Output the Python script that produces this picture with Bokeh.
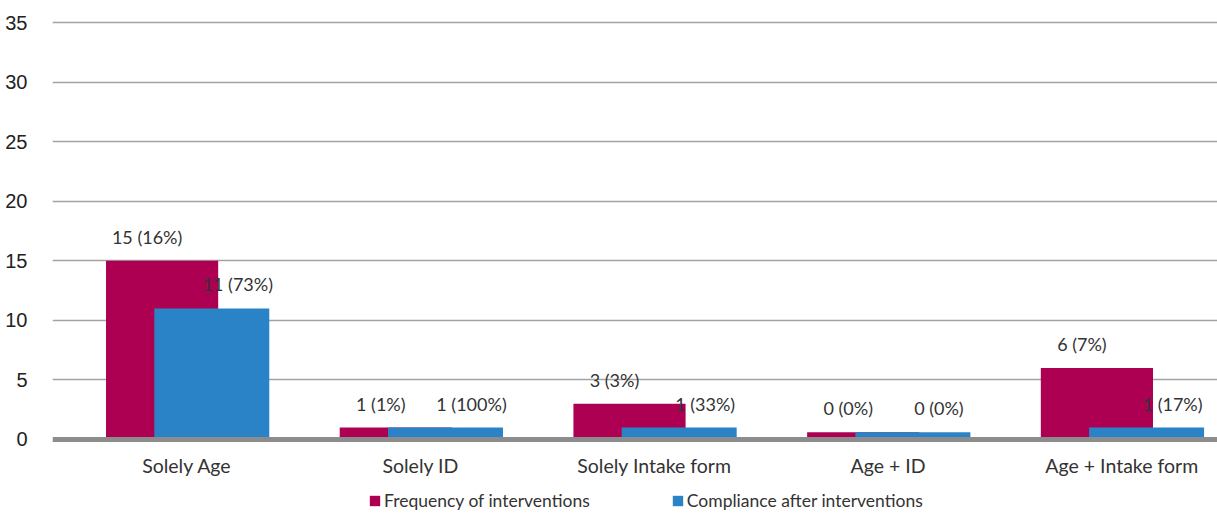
import numpy as np
from bokeh.plotting import figure
from bokeh.models import ColumnDataSource, Range1d, FixedTicker, Legend, LegendItem, Span
from bokeh.transform import dodge
from bokeh.core.properties import value
from bokeh.embed import file_html
from bokeh.resources import INLINE

# ---- data ----
categories = ["Solely Age", "Solely ID", "Solely Intake form", "Age + ID", "Age + Intake form"]
frequency = [15, 1, 3, 0, 6]
frequency_pct = [16, 1, 3, 0, 7]
compliance = [11, 1, 1, 0, 1]
compliance_pct = [73, 100, 33, 0, 17]
y_ticks = [0, 5, 10, 15, 20, 25, 30, 35]
series_names = ["Frequency of interventions", "Compliance after interventions"]

# ---- style ----
MAGENTA = "#AD0053"
BLUE = "#2A83C6"
LABEL_FONT = "Lato"
TEXT_COLOR = "#333333"
MIN_VISIBLE = 0.6    # zero-valued bars still show as a thin sliver
OFFSET = 0.1063

pos = np.arange(len(categories))
src = ColumnDataSource(dict(
    x=pos,
    cat=categories,
    freq_top=np.maximum(np.array(frequency, dtype=float), MIN_VISIBLE),
    comp_top=np.maximum(np.array(compliance, dtype=float), MIN_VISIBLE),
    freq_label=[f"{v} ({p}%)" for v, p in zip(frequency, frequency_pct)],
    comp_label=[f"{v} ({p}%)" for v, p in zip(compliance, compliance_pct)],
))

# the frame reaches the bottom of the page so the legend (drawn inside it) is not clipped
p = figure(width=1217, height=515,
           x_range=Range1d(-0.5753, 4.4097), y_range=Range1d(-6.379, 35.504),
           output_backend="svg", toolbar_location=None,
           min_border_left=52, min_border_right=0, min_border_top=16, min_border_bottom=0)
p.outline_line_color = None
p.background_fill_color = "white"

# grid
p.xgrid.visible = False
p.ygrid.ticker = FixedTicker(ticks=[t for t in y_ticks if t > 0])
p.ygrid.grid_line_color = "#a3a3a3"
p.ygrid.grid_line_width = 1.5

# y axis
p.yaxis.ticker = FixedTicker(ticks=y_ticks)
p.yaxis.axis_line_color = None
p.yaxis.major_tick_line_color = None
p.yaxis.minor_tick_line_color = None
p.yaxis.major_label_standoff = 19
p.yaxis.major_label_text_font = "Liberation Sans"
p.yaxis.major_label_text_font_size = "20px"
p.yaxis.major_label_text_color = "#222222"

# x axis drawn as baseline + category labels at y = 0
p.xaxis.visible = False
p.add_layout(Span(location=0, dimension="width", line_color="#8c8c8c", line_width=5))

# bars
r1 = p.vbar(x=dodge("x", -OFFSET), top="freq_top", bottom=0, width=0.48,
            fill_color=MAGENTA, line_color=None, source=src)
r2 = p.vbar(x=dodge("x", OFFSET), top="comp_top", bottom=0, width=0.492,
            fill_color=BLUE, line_color=None, source=src)

# category labels
p.text(x="x", y=0, text="cat", y_offset=26, text_align="center", text_baseline="middle",
       text_font=value(LABEL_FONT), text_font_size="19.5px", text_color=TEXT_COLOR, source=src)

# value labels
p.text(x=dodge("x", -OFFSET), y="freq_top", text="freq_label", x_offset=-15, y_offset=-24,
       text_align="center", text_baseline="middle", text_font=value(LABEL_FONT),
       text_font_size="18px", text_color=TEXT_COLOR, source=src)
p.text(x=dodge("x", OFFSET), y="comp_top", text="comp_label", x_offset=26, y_offset=-24,
       text_align="center", text_baseline="middle", text_font=value(LABEL_FONT),
       text_font_size="18px", text_color=TEXT_COLOR, source=src)

# legend
legend = Legend(items=[LegendItem(label=series_names[0], renderers=[r1]),
                       LegendItem(label=series_names[1], renderers=[r2])],
                orientation="horizontal", location=(316, 4),
                glyph_width=13, glyph_height=13, label_standoff=3, spacing=81,
                padding=0, margin=0, border_line_color=None, background_fill_alpha=0,
                label_text_font=LABEL_FONT, label_text_font_size="17.5px",
                label_text_color=TEXT_COLOR, label_height=20)
p.add_layout(legend, "center")

open("out.html", "w").write(file_html(p, INLINE))
